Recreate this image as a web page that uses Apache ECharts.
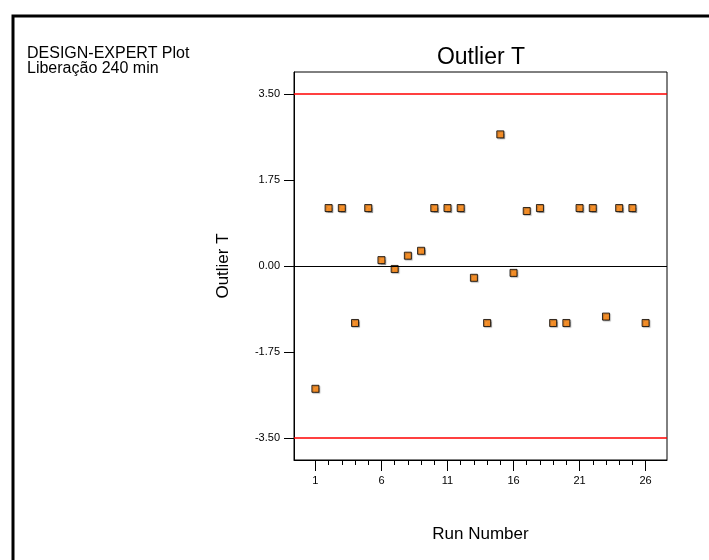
<!DOCTYPE html>
<html>
<head>
<meta charset="utf-8">
<script src="https://cdn.jsdelivr.net/npm/echarts@6/dist/echarts.min.js"></script>
<style>
  html, body { margin: 0; padding: 0; background: #fff; }
  #main { width: 709px; height: 560px; }
</style>
</head>
<body>
<div id="main"></div>
<script>
// run numbers and Outlier T values
const runs = [1, 2, 3, 4, 5, 6, 7, 8, 9, 10, 11, 12, 13, 14, 15, 16, 17, 18, 19, 20, 21, 22, 23, 24, 25, 26]
const outlierT = [-2.50, 1.18, 1.18, -1.16, 1.18, 0.12, -0.06, 0.21, 0.31, 1.18, 1.18, 1.18, -0.24,
  -1.16, 2.68, -0.14, 1.12, 1.18, -1.16, -1.16, 1.18, 1.18, -1.03, 1.18, 1.18, -1.16]
const yTicks = [-3.5, -1.75, 0, 1.75, 3.5]
const xMajorTicks = [1, 6, 11, 16, 21, 26]
const limits = [3.5, -3.5]

const font = 'Liberation Sans, Arial, sans-serif'
const chart = echarts.init(document.getElementById('main'))

const option = {
  animation: false,
  backgroundColor: '#fff',
  graphic: [
    {
      type: 'rect',
      shape: { x: 13, y: 16, width: 720, height: 580 },
      style: { fill: 'none', stroke: '#000', lineWidth: 3 }
    },
    {
      type: 'text',
      left: 27,
      top: 46,
      style: {
        text: 'DESIGN-EXPERT Plot\nLiberação 240 min',
        font: '16px ' + font,
        lineHeight: 15,
        fill: '#000'
      }
    },
    {
      type: 'text',
      x: 481,
      y: 46,
      style: {
        text: 'Outlier T',
        font: '23px ' + font,
        align: 'center',
        verticalAlign: 'top',
        fill: '#000'
      }
    }
  ],
  grid: {
    left: 294,
    top: 72,
    right: 42,
    bottom: 100,
    show: true,
    borderColor: '#000',
    borderWidth: 1
  },
  xAxis: [
    {
      type: 'value',
      min: -0.62,
      max: 27.62,
      position: 'bottom',
      name: 'Run Number',
      nameLocation: 'middle',
      nameGap: 66,
      nameTextStyle: { fontSize: 17, fontFamily: font, color: '#000' },
      axisLine: { onZero: false, lineStyle: { color: '#000', width: 1 } },
      axisTick: { customValues: xMajorTicks, length: 11, lineStyle: { color: '#000' } },
      axisLabel: { customValues: xMajorTicks, margin: 15, fontSize: 11, fontFamily: font, color: '#000' },
      splitLine: { show: false }
    },
    {
      type: 'value',
      min: -0.62,
      max: 27.62,
      position: 'bottom',
      axisLine: { show: false, onZero: false },
      axisTick: { customValues: runs, length: 5, lineStyle: { color: '#000' } },
      axisLabel: { show: false },
      splitLine: { show: false }
    }
  ],
  yAxis: {
    type: 'value',
    min: -3.95,
    max: 3.95,
    name: 'Outlier T',
    nameLocation: 'middle',
    nameRotate: 90,
    nameGap: 62,
    nameTextStyle: { fontSize: 17, fontFamily: font, color: '#000' },
    axisLine: { show: true, onZero: false, lineStyle: { color: '#000', width: 1 } },
    axisTick: { show: true, customValues: yTicks, length: 10, lineStyle: { color: '#000' } },
    axisLabel: {
      customValues: yTicks,
      margin: 14,
      fontSize: 11,
      fontFamily: font,
      color: '#000',
      formatter: v => v.toFixed(2)
    },
    splitLine: { show: false }
  },
  series: [
    {
      type: 'scatter',
      xAxisIndex: 0,
      data: runs.map((r, i) => [r, outlierT[i]]),
      symbol: 'rect',
      symbolSize: 7,
      itemStyle: {
        color: '#FF8000',
        borderColor: '#000',
        borderWidth: 1,
        shadowColor: 'rgba(0,0,0,0.35)',
        shadowOffsetX: 1,
        shadowOffsetY: 1,
        shadowBlur: 1
      },
      markLine: {
        silent: true,
        symbol: 'none',
        label: { show: false },
        data: [
          ...limits.map(v => ({ yAxis: v, lineStyle: { color: '#FF0000', width: 1.5, type: 'solid' } })),
          { yAxis: 0, lineStyle: { color: '#000', width: 1, type: 'solid' } }
        ]
      },
      z: 3
    }
  ]
}

chart.setOption(option)
</script>
</body>
</html>
